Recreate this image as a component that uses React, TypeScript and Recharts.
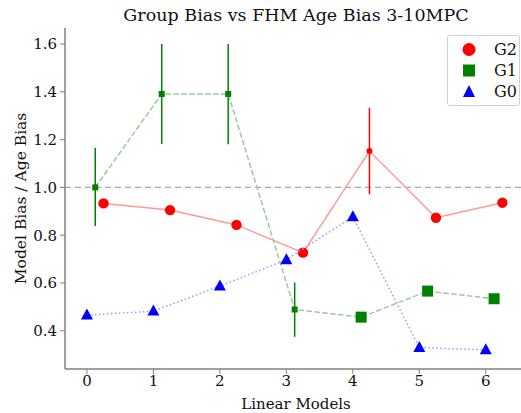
import React from 'react'
import {
  ComposedChart,
  Scatter,
  XAxis,
  YAxis,
  ReferenceLine,
  ErrorBar,
  Legend,
} from 'recharts'

// linear model index on the x axis
const models = [0, 1, 2, 3, 4, 5, 6]

// model bias / age bias per group
const g2Bias = [0.933, 0.905, 0.843, 0.727, 1.152, 0.873, 0.936]
const g1Bias = [1.0, 1.391, 1.391, 0.489, 0.457, 0.566, 0.534]
const g0Bias = [0.466, 0.482, 0.587, 0.697, 0.877, 0.33, 0.32]

// error ranges [low, high], null where no bar is drawn
const g2Err: ([number, number] | null)[] = [null, null, null, null, [0.971, 1.333], null, null]
const g1Err: ([number, number] | null)[] = [
  [0.838, 1.166],
  [1.181, 1.6],
  [1.181, 1.6],
  [0.375, 0.602],
  null,
  null,
  null,
]

const xTicks = [0, 1, 2, 3, 4, 5, 6]
const yTicks = [0.4, 0.6, 0.8, 1.0, 1.2, 1.4, 1.6]

const FONT = '"DejaVu Serif", serif'
const SPINE = '#808080'

function build(bias: number[], offset: number, err?: ([number, number] | null)[]) {
  return models.map((m, i) => {
    const e = err ? err[i] : null
    return {
      x: m + offset,
      y: bias[i],
      hasErr: !!e,
      err: e ? [bias[i] - e[0], e[1] - bias[i]] : [0, 0],
    }
  })
}

const g2Data = build(g2Bias, 0.25, g2Err)
const g1Data = build(g1Bias, 0.125, g1Err)
const g0Data = build(g0Bias, 0)

const Circle = (p: any) => {
  const r = p.payload.hasErr ? 3 : 5.2
  return <circle cx={p.cx} cy={p.cy} r={r} fill="#ff0000" />
}

const Square = (p: any) => {
  const s = p.payload.hasErr ? 6 : 11
  return <rect x={p.cx - s / 2} y={p.cy - s / 2} width={s} height={s} fill="#008000" />
}

const Triangle = (p: any) => {
  const w = 12
  const h = 11
  return (
    <polygon
      points={`${p.cx},${p.cy - h * 0.6} ${p.cx - w / 2},${p.cy + h * 0.4} ${p.cx + w / 2},${p.cy + h * 0.4}`}
      fill="#0000ff"
    />
  )
}

const legendItems = [
  { name: 'G2', kind: 'circle' },
  { name: 'G1', kind: 'square' },
  { name: 'G0', kind: 'triangle' },
]

function LegendBox() {
  return (
    <div
      style={{
        border: '1px solid #d0d0d0',
        borderRadius: 3,
        background: 'rgba(255,255,255,0.8)',
        padding: '3px 0 3px 0',
        fontFamily: FONT,
        fontSize: 16,
        color: '#111',
      }}
    >
      {legendItems.map((it) => (
        <div key={it.name} style={{ display: 'flex', alignItems: 'center', height: 21 }}>
          <svg width={40} height={21}>
            {it.kind === 'circle' && <circle cx={21} cy={10.5} r={6.5} fill="#ff0000" />}
            {it.kind === 'square' && <rect x={15} y={4.5} width={12} height={12} fill="#008000" />}
            {it.kind === 'triangle' && <polygon points="21,4 15,16 27,16" fill="#0000ff" />}
          </svg>
          <span style={{ marginLeft: 6, fontFamily: FONT }}>{it.name}</span>
        </div>
      ))}
    </div>
  )
}

const YLabel = (props: any) => {
  const vb = props.viewBox
  const cx = 21
  const cy = vb.y + vb.height / 2
  return (
    <text
      transform={`translate(${cx},${cy}) rotate(-90)`}
      textAnchor="middle"
      dominantBaseline="central"
      fontFamily={FONT}
      fontSize={15.5}
      fill="#111"
    >
      Model Bias / Age Bias
    </text>
  )
}

export default function App() {
  const tick = { fontFamily: FONT, fontSize: 15, fill: '#111' }
  return (
    <div
      style={{
        position: 'fixed',
        left: 0,
        top: 0,
        width: 521,
        height: 413,
        overflow: 'hidden',
        background: '#fff',
        fontFamily: FONT,
      }}
    >
      <div
        style={{
          position: 'absolute',
          left: 65,
          width: 462,
          top: 5,
          textAlign: 'center',
          fontFamily: FONT,
          fontSize: 17.5,
          lineHeight: '20px',
          color: '#111',
        }}
      >
        Group Bias vs FHM Age Bias 3-10MPC
      </div>
      <ComposedChart
        width={545}
        height={413}
        margin={{ top: 28, right: 18, left: 0, bottom: 0 }}
        style={{ fontFamily: FONT }}
      >
        <XAxis
          xAxisId="top"
          orientation="top"
          type="number"
          dataKey="x"
          domain={[-0.33, 6.62]}
          allowDataOverflow
          height={0}
          tick={false}
          tickLine={false}
          axisLine={{ stroke: SPINE, strokeWidth: 1 }}
        />
        <XAxis
          type="number"
          dataKey="x"
          domain={[-0.33, 6.62]}
          allowDataOverflow
          ticks={xTicks}
          height={44}
          tick={tick}
          tickSize={5}
          tickMargin={1}
          tickLine={{ stroke: SPINE }}
          axisLine={{ stroke: SPINE, strokeWidth: 1.5 }}
          label={{ value: 'Linear Models', position: 'insideBottom', offset: 4, style: { fontFamily: FONT, fontSize: 15, fill: '#111' } }}
        />
        <YAxis
          type="number"
          dataKey="y"
          domain={[0.24, 1.667]}
          allowDataOverflow
          ticks={yTicks}
          width={65}
          tick={tick}
          tickSize={5}
          tickMargin={3}
          tickLine={{ stroke: SPINE }}
          axisLine={{ stroke: SPINE, strokeWidth: 1.5 }}
          tickFormatter={(v: number) => v.toFixed(1)}
          label={<YLabel />}
        />
        <ReferenceLine y={1} stroke="#aaaaaa" strokeWidth={1.3} strokeDasharray="6 4" />
        <Scatter
          name="G2"
          data={g2Data}
          shape={Circle}
          line={{ stroke: '#ff9999', strokeWidth: 1.5 }}
          lineJointType="linear"
          isAnimationActive={false}
        >
          <ErrorBar dataKey="err" direction="y" width={0} stroke="#ff0000" strokeWidth={1.5} />
        </Scatter>
        <Scatter
          name="G1"
          data={g1Data}
          shape={Square}
          line={{ stroke: '#99cc99', strokeWidth: 1.5, strokeDasharray: '5.5 2.4' }}
          lineJointType="linear"
          isAnimationActive={false}
        >
          <ErrorBar dataKey="err" direction="y" width={0} stroke="#008000" strokeWidth={1.5} />
        </Scatter>
        <Scatter
          name="G0"
          data={g0Data}
          shape={Triangle}
          line={{ stroke: '#9999ff', strokeWidth: 1.5, strokeDasharray: '1.5 2.5' }}
          lineJointType="linear"
          isAnimationActive={false}
        />
        <Legend
          layout="vertical"
          align="center"
          verticalAlign="middle"
          content={() => <LegendBox />}
          wrapperStyle={{ position: 'absolute', left: 447, top: 35, width: 73, height: 'auto' }}
        />
      </ComposedChart>
    </div>
  )
}
